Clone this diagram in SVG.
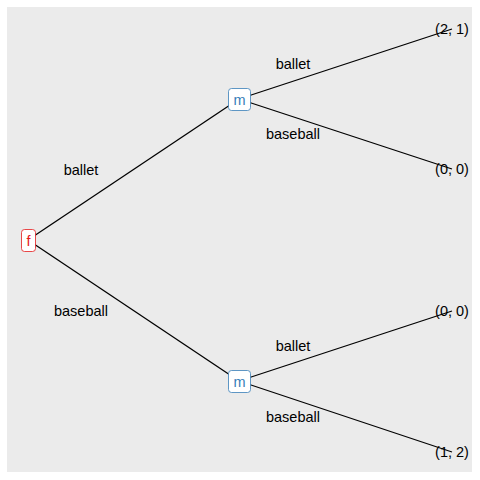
<svg xmlns="http://www.w3.org/2000/svg" width="480" height="480" viewBox="0 0 480 480">
<style>
text{font-family:"Liberation Sans",Arial,sans-serif;font-size:14.5px;fill:#000;text-anchor:middle;dominant-baseline:central}
.edge{stroke:#000;stroke-width:1.3;fill:none}
.box{fill:#fff;stroke-width:0.8}
.f rect{stroke:#E41A1C}.f text{fill:#E41A1C}
.m rect{stroke:#377EB8}.m text{fill:#377EB8}
</style>
<rect x="0" y="0" width="480" height="480" fill="#fff"/>
<rect x="7" y="7" width="465" height="465" fill="#EBEBEB"/>
<g id="connectors">
<line class="edge" x1="28" y1="240" x2="239" y2="99"/>
<line class="edge" x1="28" y1="240" x2="239" y2="381"/>
<line class="edge" x1="239" y1="99" x2="452" y2="29"/>
<line class="edge" x1="239" y1="99" x2="452" y2="169"/>
<line class="edge" x1="239" y1="381" x2="452" y2="311"/>
<line class="edge" x1="239" y1="381" x2="452" y2="452"/>
<text x="81" y="170">ballet</text>
<text x="81" y="311">baseball</text>
<text x="293" y="64">ballet</text>
<text x="293" y="134">baseball</text>
<text x="293" y="346">ballet</text>
<text x="293" y="417">baseball</text>
</g>
<g id="node-f" class="f"><rect class="box" x="21.5" y="229.5" width="14" height="22" rx="3"/><text x="28.5" y="240.5">f</text></g>
<g id="node-m1" class="m"><rect class="box" x="228.5" y="88.5" width="22" height="22" rx="3"/><text x="239.5" y="99.5">m</text></g>
<g id="node-m2" class="m"><rect class="box" x="228.5" y="370.5" width="22" height="22" rx="3"/><text x="239.5" y="381.5">m</text></g>
<g id="leaf-1"><text x="452" y="29">(2, 1)</text></g>
<g id="leaf-2"><text x="452" y="169">(0, 0)</text></g>
<g id="leaf-3"><text x="452" y="311">(0, 0)</text></g>
<g id="leaf-4"><text x="452" y="452">(1, 2)</text></g>
</svg>
